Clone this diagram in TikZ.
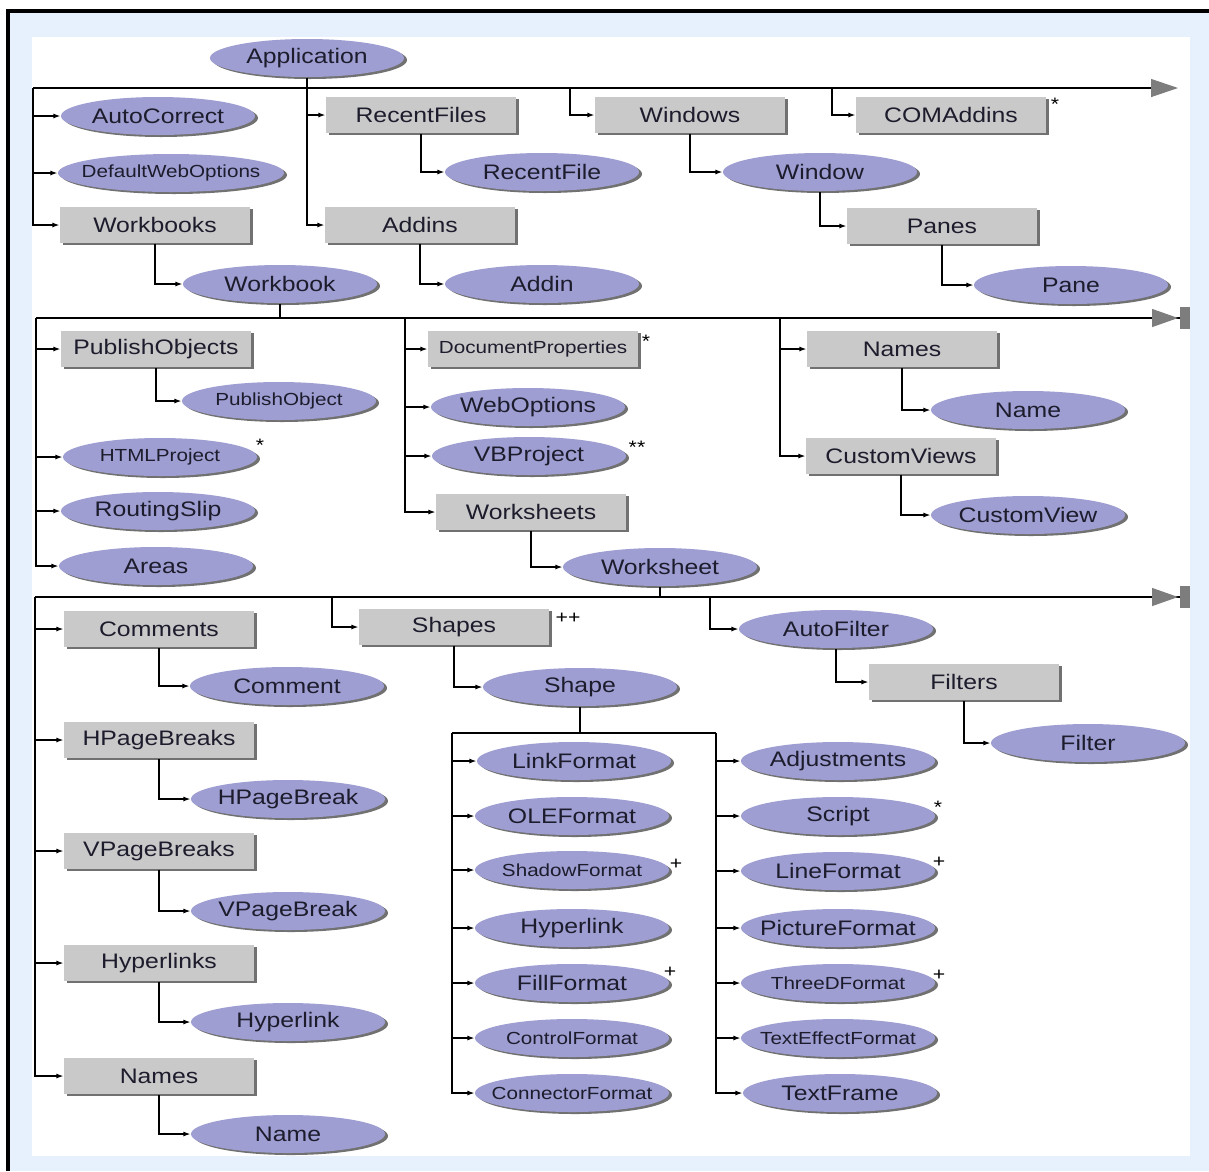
\documentclass[tikz,border=0pt]{standalone}
\usepackage{fontspec}
\newfontfamily\objfont{Liberation Sans}[FakeStretch=1.18]
\usetikzlibrary{arrows.meta, shapes.geometric, shadows}
\definecolor{objfill}{RGB}{158,158,210}
\definecolor{collfill}{RGB}{201,201,201}
\definecolor{bgblue}{RGB}{230,241,253}
\definecolor{tipgray}{RGB}{125,125,125}
\definecolor{inkcol}{RGB}{28,28,45}

\begin{document}
\begin{tikzpicture}[x=1pt,y=-1pt,>={Latex[length=7pt,width=5pt]},line width=1.2pt,
  obj/.style={ellipse,fill=objfill,minimum width=194pt,minimum height=38pt,inner xsep=-30pt,inner ysep=0pt,
    text=inkcol,font=\objfont\fontsize{21}{24}\selectfont,
    drop shadow={shadow xshift=3pt,shadow yshift=-2pt,fill=black!65,opacity=.85}},
  coll/.style={rectangle,fill=collfill,minimum width=190pt,minimum height=36pt,inner sep=0pt,
    text=inkcol,font=\objfont\fontsize{21}{24}\selectfont,
    drop shadow={shadow xshift=3pt,shadow yshift=-2pt,fill=black!65,opacity=.85}},
  smalltxt/.style={font=\objfont\fontsize{17.5}{20}\selectfont},
  note/.style={font=\objfont\fontsize{18}{20}\selectfont,inner sep=0pt},
  elbow/.style={to path={|- (\tikztotarget)}},
  bus/.style={-{Triangle[length=27pt,width=18pt,color=tipgray]}},
  busbar/.style={-{Triangle[length=26pt,width=18pt,sep=2pt,color=tipgray] Rectangle[length=10pt,width=22pt,color=tipgray]}}]

\useasboundingbox (0,0) rectangle (1209,1171);

% background and frame
\fill[white] (0,0) rectangle (1209,1171);
\fill[bgblue] (8,11) rectangle (1209,1171);
\draw[line width=4pt] (8,1171) -- (8,11) -- (1209,11);
\fill[white] (32,37) rectangle (1190,1156);

% define the objects below Application
  \node[obj]  (app) at (307,58)
{Application};
  \node[obj]  (autoc) at (158,116)
{AutoCorrect};
  \node[obj,smalltxt,minimum width=226pt]  (defweb) at (171,173)
{DefaultWebOptions};
  \node[coll]  (wbs) at (155,225)
{Workbooks};
  \node[obj]  (wb) at (280,284)
{Workbook};
  \node[coll]  (recent) at (421,115)
{RecentFiles};
  \node[obj]  (recentf) at (542,172)
{RecentFile};
  \node[coll]  (addins) at (420,225)
{Addins};
  \node[obj]  (addin) at (542,284)
{Addin};
  \node[coll]  (windows) at (690,115)
{Windows};
  \node[obj]  (window) at (820,172)
{Window};
  \node[coll]  (panes) at (942,226)
{Panes};
  \node[obj]  (pane) at (1071,285)
{Pane};
  \node[coll]  (comadd) at (951,115)
{COMAddins};

% define the objects below Workbook
  \node[coll]  (pubs) at (156,349)
{PublishObjects};
  \node[obj,smalltxt]  (pubo) at (279,401)
{PublishObject};
  \node[obj,smalltxt]  (htmlp) at (160,457)
{HTMLProject};
  \node[obj]  (routing) at (158,511)
{RoutingSlip};
  \node[obj]  (areas) at (156,566)
{Areas};
  \node[coll,smalltxt,minimum width=210pt]  (docprops) at (533,349)
{DocumentProperties};
  \node[obj]  (webopt) at (528,407)
{WebOptions};
  \node[obj]  (vbp) at (529,456)
{VBProject};
  \node[coll]  (wss) at (531,512)
{Worksheets};
  \node[obj]  (ws) at (660,567)
{Worksheet};
  \node[coll]  (names1) at (902,349)
{Names};
  \node[obj]  (name1) at (1028,410)
{Name};
  \node[coll]  (cviews) at (901,456)
{CustomViews};
  \node[obj]  (cview) at (1028,515)
{CustomView};

% define the objects below Worksheet
  \node[coll]  (comments) at (159,629)
{Comments};
  \node[obj]  (comment) at (287,686)
{Comment};
  \node[coll]  (hpbs) at (159,740)
{HPageBreaks};
  \node[obj]  (hpb) at (288,799)
{HPageBreak};
  \node[coll]  (vpbs) at (159,851)
{VPageBreaks};
  \node[obj]  (vpb) at (288,911)
{VPageBreak};
  \node[coll]  (hlinks) at (159,963)
{Hyperlinks};
  \node[obj]  (hlink) at (288,1022)
{Hyperlink};
  \node[coll]  (names2) at (159,1076)
{Names};
  \node[obj]  (name2) at (288,1134)
{Name};
  \node[coll]  (shapes) at (454,627)
{Shapes};
  \node[obj]  (shape) at (580,687)
{Shape};
  \node[obj]  (autof) at (836,629)
{AutoFilter};
  \node[coll]  (filters) at (964,682)
{Filters};
  \node[obj]  (filter) at (1088,743)
{Filter};

% define the objects below Shape
  \node[obj]  (linkf) at (574,761)
{LinkFormat};
  \node[obj]  (olef) at (572,816)
{OLEFormat};
  \node[obj,smalltxt]  (shadowf) at (572,870)
{ShadowFormat};
  \node[obj]  (hlinkf) at (572,928)
{Hyperlink};
  \node[obj]  (fillf) at (572,983)
{FillFormat};
  \node[obj,smalltxt]  (ctrlf) at (572,1038)
{ControlFormat};
  \node[obj,smalltxt]  (connf) at (572,1093)
{ConnectorFormat};
  \node[obj]  (adjust) at (838,761)
{Adjustments};
  \node[obj]  (script) at (838,816)
{Script};
  \node[obj]  (linef) at (838,871)
{LineFormat};
  \node[obj]  (pictf) at (838,928)
{PictureFormat};
  \node[obj,smalltxt]  (threed) at (838,983)
{ThreeDFormat};
  \node[obj,smalltxt]  (texteff) at (838,1038)
{TextEffectFormat};
  \node[obj]  (textfr) at (840,1093)
{TextFrame};

% footnote marks
  \node[note] (m1) at (1055,104) {*};
  \node[note] (m2) at (260,445) {*};
  \node[note] (m3) at (646,341) {*};
  \node[note] (m4) at (637,447) {**};
  \node[note] (m5) at (568,618) {++};
  \node[note] (m6) at (676,864) {+};
  \node[note] (m7) at (670,972) {+};
  \node[note] (m8) at (938,807) {*};
  \node[note] (m9) at (939,862) {+};
  \node[note] (m10) at (939,975) {+};

% define the bus lines
  \coordinate (b1w) at (33,88);
  \coordinate (b1e) at (1178,88);
  \coordinate (jwin) at (570,88);
  \coordinate (jcom) at (832,88);
  \coordinate (b2w) at (36,318);
  \coordinate (b2e) at (1190,318);
  \coordinate (j2m) at (405,318);
  \coordinate (j2r) at (780,318);
  \coordinate (b3w) at (35,597);
  \coordinate (b3e) at (1190,597);
  \coordinate (j3s) at (332,597);
  \coordinate (j3a) at (710,597);
  \coordinate (jl) at (452,733);
  \coordinate (jr) at (716,733);

  \draw[bus] (b1w) -- (b1e);
  \draw[busbar] (b2w) -- (b2e);
  \draw[busbar] (b3w) -- (b3e);
  \draw (wb) -- (wb |- b2w);
  \draw (ws) -- (ws |- b3w);
  \draw (shape) -- (shape |- jl);
  \draw (jl) -- (jr);

% define the links
  \path[->] (b1w) edge[elbow] (autoc)
                  edge[elbow] (defweb)
                  edge[elbow] (wbs)
        (wbs) edge[elbow] (wb)
        (app) edge[elbow] (recent)
              edge[elbow] (addins)
        (recent) edge[elbow] (recentf)
        (addins) edge[elbow] (addin)
        (jwin) edge[elbow] (windows)
        (windows) edge[elbow] (window)
        (window) edge[elbow] (panes)
        (panes) edge[elbow] (pane)
        (jcom) edge[elbow] (comadd);

  \path[->] (b2w) edge[elbow] (pubs)
                  edge[elbow] (htmlp)
                  edge[elbow] (routing)
                  edge[elbow] (areas)
        (pubs) edge[elbow] (pubo)
        (j2m) edge[elbow] (docprops)
              edge[elbow] (webopt)
              edge[elbow] (vbp)
              edge[elbow] (wss)
        (wss) edge[elbow] (ws)
        (j2r) edge[elbow] (names1)
              edge[elbow] (cviews)
        (names1) edge[elbow] (name1)
        (cviews) edge[elbow] (cview);

  \path[->] (b3w) edge[elbow] (comments)
                  edge[elbow] (hpbs)
                  edge[elbow] (vpbs)
                  edge[elbow] (hlinks)
                  edge[elbow] (names2)
        (comments) edge[elbow] (comment)
        (hpbs) edge[elbow] (hpb)
        (vpbs) edge[elbow] (vpb)
        (hlinks) edge[elbow] (hlink)
        (names2) edge[elbow] (name2)
        (j3s) edge[elbow] (shapes)
        (shapes) edge[elbow] (shape)
        (j3a) edge[elbow] (autof)
        (autof) edge[elbow] (filters)
        (filters) edge[elbow] (filter);

  \path[->] (jl) edge[elbow] (linkf)
                 edge[elbow] (olef)
                 edge[elbow] (shadowf)
                 edge[elbow] (hlinkf)
                 edge[elbow] (fillf)
                 edge[elbow] (ctrlf)
                 edge[elbow] (connf)
        (jr) edge[elbow] (adjust)
             edge[elbow] (script)
             edge[elbow] (linef)
             edge[elbow] (pictf)
             edge[elbow] (threed)
             edge[elbow] (texteff)
             edge[elbow] (textfr);

\end{tikzpicture}
\end{document}
